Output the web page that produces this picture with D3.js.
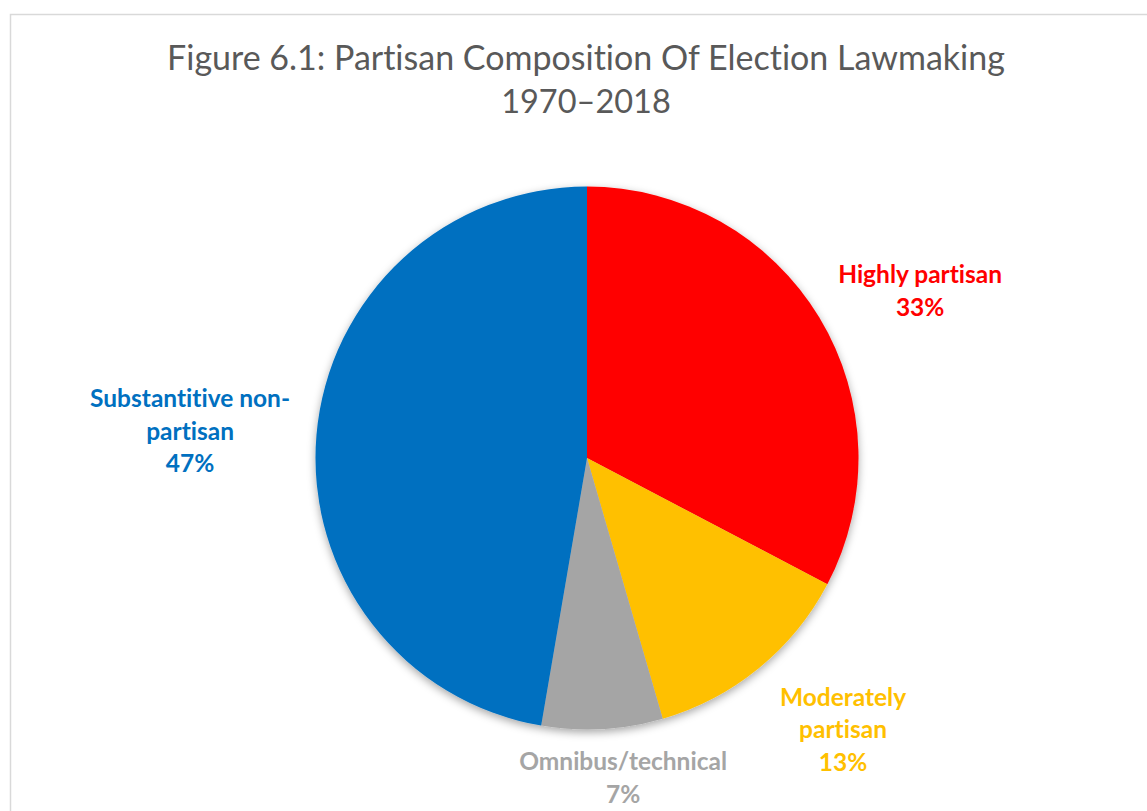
<!DOCTYPE html>
<html>
<head>
<meta charset="utf-8">
<script src="https://cdnjs.cloudflare.com/ajax/libs/d3/7.8.5/d3.min.js"></script>
<style>
  body { margin: 0; background: #fff; }
  svg text { font-family: Lato, "Open Sans", sans-serif; font-variant-ligatures: none; }
</style>
</head>
<body>
<div id="chart"></div>
<script>
// Data
var categories = ["Highly partisan", "Moderately partisan", "Omnibus/technical", "Substantitive non-partisan"];
var values = [32.7, 12.8, 7.2, 47.3];
var labelLines = [["Highly partisan"], ["Moderately", "partisan"], ["Omnibus/technical"], ["Substantitive non-", "partisan"]];
var colors = ["#FF0000", "#FFC000", "#A5A5A5", "#0070C0"];
var titleLines = ["Figure 6.1: Partisan Composition Of Election Lawmaking", "1970\u20132018"];

// Layout
var width = 1147, height = 811;
var cx = 587, cy = 458, radius = 271.5;
// label block centres, as multiples of the radius from the pie centre
var labelOffset = [[1.227, -0.615], [0.943, 1.0], [0.133, 1.179], [-1.462, -0.099]];
var lineHeight = 32.5;

var svg = d3.select("#chart")
            .append("svg")
            .attr("width", width)
            .attr("height", height);

// chart area border
svg.append("rect")
   .attr("x", 10.5).attr("y", 14.5)
   .attr("width", 1300).attr("height", 1000)
   .attr("fill", "none")
   .attr("stroke", "#d9d9d9")
   .attr("stroke-width", 1.5);

// shadow filter
var filter = svg.append("defs").append("filter")
                .attr("id", "shadow")
                .attr("x", "-20%").attr("y", "-20%")
                .attr("width", "140%").attr("height", "140%");
filter.append("feDropShadow")
      .attr("dx", 0).attr("dy", 3)
      .attr("stdDeviation", 4)
      .attr("flood-color", "#000")
      .attr("flood-opacity", 0.35);

// title
svg.append("g").selectAll("text")
   .data(titleLines)
   .enter()
   .append("text")
   .attr("x", 586)
   .attr("y", function (d, i) { return 70 + i * 43; })
   .attr("text-anchor", "middle")
   .attr("fill", "#595959")
   .style("font-size", function (d, i) { return i == 0 ? "34px" : "32.5px"; })
   .text(function (d) { return d; });

var pie = d3.pie().sort(null).value(function (d) { return d; });
var arc = d3.arc().innerRadius(0).outerRadius(radius);
var arcs = pie(values);

var g = svg.append("g")
           .attr("transform", "translate(" + cx + "," + cy + ")");

g.append("g")
 .attr("filter", "url(#shadow)")
 .selectAll("path")
 .data(arcs)
 .enter()
 .append("path")
 .attr("d", arc)
 .attr("fill", function (d, i) { return colors[i]; });

// data labels
var labels = g.selectAll("g.label")
              .data(arcs)
              .enter()
              .append("g")
              .attr("class", "label")
              .attr("transform", function (d, i) {
                  return "translate(" + (labelOffset[i][0] * radius) + "," + (labelOffset[i][1] * radius) + ")";
              });

labels.each(function (d, i) {
    var lines = labelLines[i].concat([Math.round(d.value) + "%"]);
    var n = lines.length;
    d3.select(this).selectAll("text")
      .data(lines)
      .enter()
      .append("text")
      .attr("text-anchor", "middle")
      .attr("y", function (t, j) { return (j - (n - 1) / 2) * lineHeight; })
      .attr("dy", "0.35em")
      .attr("fill", colors[i])
      .style("font-size", "24.5px")
      .style("font-weight", "bold")
      .text(function (t) { return t; });
});
</script>
</body>
</html>
